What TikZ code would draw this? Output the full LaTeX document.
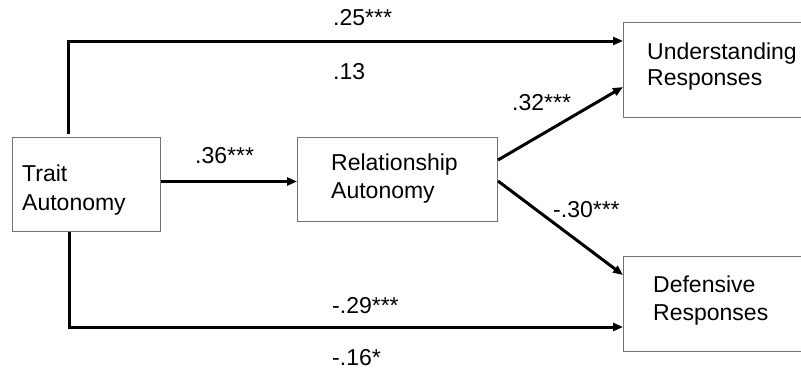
\documentclass[tikz,border=0pt]{standalone}
\usepackage{fontspec}
\setmainfont{Liberation Sans}
\usetikzlibrary{arrows.meta,positioning}

\tikzset{
	var/.style={draw=black!55, line width=1pt, rectangle, anchor=north west, inner sep=0pt},
	varname/.style={anchor=base west, align=left, inner sep=0pt, font=\fontsize{23}{28}\selectfont},
	link/.style={line width=3pt, -{Triangle[length=10pt,width=8pt]}},
	coef/.style={anchor=base west, inner sep=0pt, font=\fontsize{23}{28}\selectfont},
}

\begin{document}
\begin{tikzpicture}[x=1pt,y=-1pt]
				\useasboundingbox (0,0) rectangle (801,372);
				% the four variables
				\node[var, minimum width=148pt, minimum height=94pt] (trait) at (12,137) {};
				\node[var, minimum width=200pt, minimum height=84pt] (rel) at (297,137) {};
				\node[var, minimum width=185pt, minimum height=95pt] (und) at (623,22) {};
				\node[var, minimum width=185pt, minimum height=95pt] (def) at (623,256) {};
				% their names (base = last line)
				\node[varname, font=\fontsize{23}{28.5}\selectfont]
								(traitname) at ([xshift=10pt,yshift=-73pt]trait.north west) {Trait\\Autonomy};
				\node[varname] (relname) at ([xshift=34pt,yshift=-61pt]rel.north west) {Relationship\\Autonomy};
				\node[varname, font=\fontsize{23}{26}\selectfont]
								(undname) at ([xshift=24pt,yshift=-63pt]und.north west) {Understanding\\Responses};
				\node[varname] (defname) at ([xshift=30pt,yshift=-64pt]def.north west) {Defensive\\Responses};
				% paths
				\draw[link, shorten <=3pt] ([xshift=56pt]trait.north west) |- ([yshift=-19pt]und.north west);
				\draw[link] ([xshift=57pt]trait.south west) |- ([yshift=-71pt]def.north west);
				\draw[link] ([yshift=3pt]trait.east) -- ([yshift=3pt]trait.east -| rel.west);
				\draw[link] ([yshift=19.5pt]rel.east) -- ([yshift=-65pt]und.north west);
				\draw[link] ([yshift=-1.5pt]rel.east) -- ([yshift=-19pt]def.north west);
				% coefficients
				\node[coef] (c1) at (333,25) {.25***};
				\node[coef] (c2) at (333,79) {.13};
				\node[coef] (c3) at (195,163) {.36***};
				\node[coef] (c4) at (512,110) {.32***};
				\node[coef] (c5) at (553,217) {-.30***};
				\node[coef] (c6) at (332,313) {-.29***};
				\node[coef] (c7) at (332,365) {-.16*};
\end{tikzpicture}
\end{document}
